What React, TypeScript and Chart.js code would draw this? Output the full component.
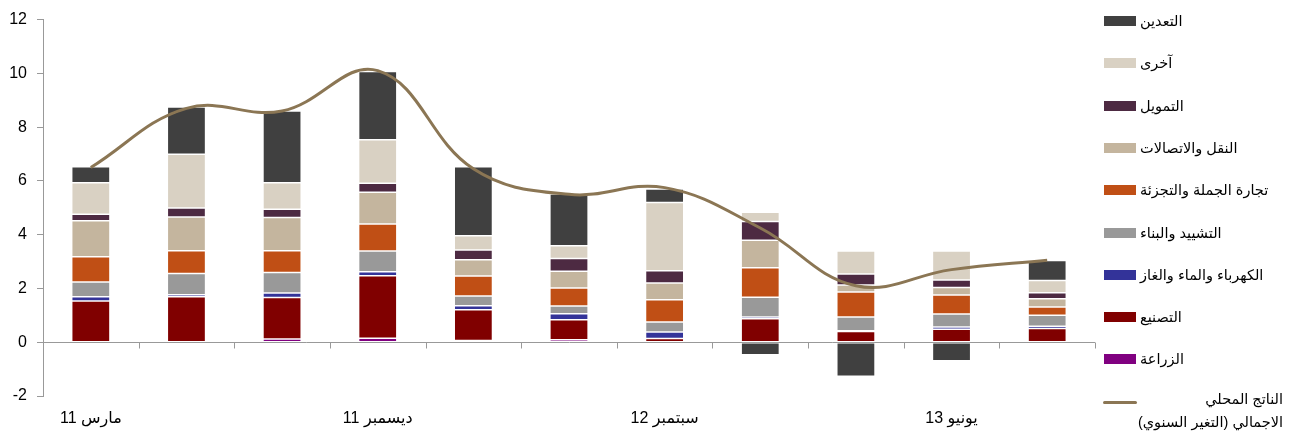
import React, { useEffect, useRef } from 'react';
import { Chart, registerables } from 'chart.js';
Chart.register(...registerables);

const categories = ['مارس 11', 'يونيو 11', 'سبتمبر 11', 'ديسمبر 11', 'مارس 12', 'يونيو 12', 'سبتمبر 12', 'ديسمبر 12', 'مارس 13', 'يونيو 13', 'سبتمبر 13'];
const yTicks = [-2, 0, 2, 4, 6, 8, 10, 12];

const agriculture = [0.02, 0.02, 0.12, 0.15, 0.06, 0.09, 0.02, 0.02, 0.0, 0.0, 0.0];
const manufacturing = [1.51, 1.67, 1.54, 2.32, 1.15, 0.75, 0.12, 0.85, 0.40, 0.48, 0.51];
const electricity = [0.16, 0.08, 0.17, 0.15, 0.15, 0.22, 0.24, 0.07, 0.03, 0.09, 0.08];
const construction = [0.55, 0.79, 0.76, 0.77, 0.36, 0.29, 0.37, 0.73, 0.51, 0.48, 0.41];
const trade = [0.94, 0.84, 0.81, 1.01, 0.74, 0.67, 0.83, 1.10, 0.93, 0.71, 0.31];
const transport = [1.34, 1.26, 1.24, 1.18, 0.61, 0.62, 0.62, 1.02, 0.26, 0.28, 0.31];
const finance = [0.24, 0.33, 0.31, 0.33, 0.36, 0.47, 0.46, 0.70, 0.41, 0.27, 0.22];
const other = [1.17, 2.00, 0.98, 1.62, 0.53, 0.48, 2.54, 0.34, 0.85, 1.08, 0.46];
const mining = [0.60, 1.76, 2.67, 2.54, 2.57, 1.92, 0.50, -0.47, -1.27, -0.69, 0.74];
const gdp = [6.5, 8.7, 8.6, 10.1, 6.45, 5.5, 5.75, 4.25, 2.1, 2.7, 3.05];

const barSeries = [
  { label: 'الزراعة', data: agriculture, color: '#800080' },
  { label: 'التصنيع', data: manufacturing, color: '#800000' },
  { label: 'الكهرباء والماء والغاز', data: electricity, color: '#333399' },
  { label: 'التشييد والبناء', data: construction, color: '#999999' },
  { label: 'تجارة الجملة والتجزئة', data: trade, color: '#c04f15' },
  { label: 'النقل والاتصالات', data: transport, color: '#c4b59e' },
  { label: 'التمويل', data: finance, color: '#4d2a42' },
  { label: 'آخرى', data: other, color: '#d9d1c3' },
  { label: 'التعدين', data: mining, color: '#404040' },
];
const gdpLabelLines = ['الناتج المحلي', 'الاجمالي (التغير السنوي)'];
const gdpLabel = gdpLabelLines.join(' ');
const gdpColor = '#8b7654';

const zeroTicks = {
  id: 'zeroTicks',
  afterDatasetsDraw(chart: any) {
    const x = chart.scales.x;
    const y = chart.scales.y;
    const y0 = Math.round(y.getPixelForValue(0)) + 0.5;
    const ctx = chart.ctx;
    ctx.save();
    ctx.strokeStyle = '#999999';
    ctx.lineWidth = 1;
    ctx.beginPath();
    for (let i = 0; i <= categories.length; i++) {
      const px = Math.round(x.getPixelForValue(i - 0.5)) + 0.5;
      ctx.moveTo(px, y0);
      ctx.lineTo(px, y0 + 6);
    }
    ctx.stroke();
    ctx.restore();
  },
};

export default function App() {
  const ref = useRef<HTMLCanvasElement>(null);
  useEffect(() => {
    document.body.style.margin = '0';
    const datasets: any[] = barSeries.map((s) => ({
      type: 'bar',
      label: s.label,
      data: s.data,
      backgroundColor: s.color,
      borderColor: 'rgba(255,255,255,0.8)',
      borderWidth: 0.75,
      borderSkipped: false,
      barPercentage: 0.4,
      categoryPercentage: 1,
      order: 1,
      stack: 'sectors',
    }));
    datasets.push({
      type: 'line',
      label: gdpLabel,
      data: gdp,
      borderColor: gdpColor,
      borderWidth: 3,
      pointRadius: 0,
      tension: 0.4,
      fill: false,
      order: 0,
      stack: 'gdp',
    });
    const chart = new Chart(ref.current!, {
      type: 'bar',
      data: { labels: categories, datasets },
      plugins: [zeroTicks],
      options: {
        animation: false,
        responsive: false,
        layout: { padding: { left: 0, right: 196, top: 19, bottom: 0 } },
        plugins: { legend: { display: false }, tooltip: { enabled: false } },
        scales: {
          x: {
            stacked: true,
            grid: { display: false, drawTicks: false },
            border: { display: false },
            ticks: {
              autoSkip: false,
              maxRotation: 0,
              padding: 13,
              color: '#000',
              font: { family: "'Liberation Sans', 'DejaVu Sans', Arial, sans-serif", size: 16 },
              callback: (_v: any, i: number) => (i % 3 === 0 ? categories[i] : ''),
            },
            afterFit: (s: any) => { s.height = 38; },
          },
          y: {
            stacked: true,
            min: yTicks[0],
            max: yTicks[yTicks.length - 1],
            afterBuildTicks: (s: any) => { s.ticks = yTicks.map((v) => ({ value: v })); },
            grid: {
              color: (c: any) => (c.tick && c.tick.value === 0 ? '#999999' : 'rgba(0,0,0,0)'),
              tickColor: '#999999',
              tickLength: 6,
            },
            border: { color: '#999999' },
            ticks: {
              padding: 10,
              color: '#000',
              font: { family: "'Liberation Sans', Arial, sans-serif", size: 16 },
            },
            afterFit: (s: any) => { s.width = 43; },
          },
        },
      },
    } as any);
    return () => chart.destroy();
  }, []);

  const legendItems = [...barSeries].reverse();
  const fontFamily = "'Liberation Sans', 'DejaVu Sans', Arial, sans-serif";
  return (
    <div style={{ position: 'relative', width: 1291, height: 434, fontFamily }}>
      <canvas ref={ref} width={1291} height={434} style={{ position: 'absolute', left: 0, top: 0 }} />
      {legendItems.map((s, i) => {
        const cy = 21 + i * 42.3;
        return (
          <div key={s.label}>
            <div style={{ position: 'absolute', left: 1104, top: cy - 5, width: 32, height: 10, background: s.color }} />
            <div dir="rtl" style={{ position: 'absolute', left: 1140, top: cy - 11, height: 22, lineHeight: '22px', fontSize: 14.5, color: '#000', whiteSpace: 'nowrap' }}>
              {s.label}
            </div>
          </div>
        );
      })}
      <div style={{ position: 'absolute', left: 1103, top: 401, width: 34, height: 3, background: gdpColor, borderRadius: 1.5 }} />
      <div dir="rtl" style={{ position: 'absolute', left: 1133, top: 388, width: 150, textAlign: 'right', lineHeight: '23px', fontSize: 14.5, color: '#000', whiteSpace: 'nowrap' }}>
        {gdpLabelLines.map((l) => (
          <div key={l}>{l}</div>
        ))}
      </div>
    </div>
  );
}
